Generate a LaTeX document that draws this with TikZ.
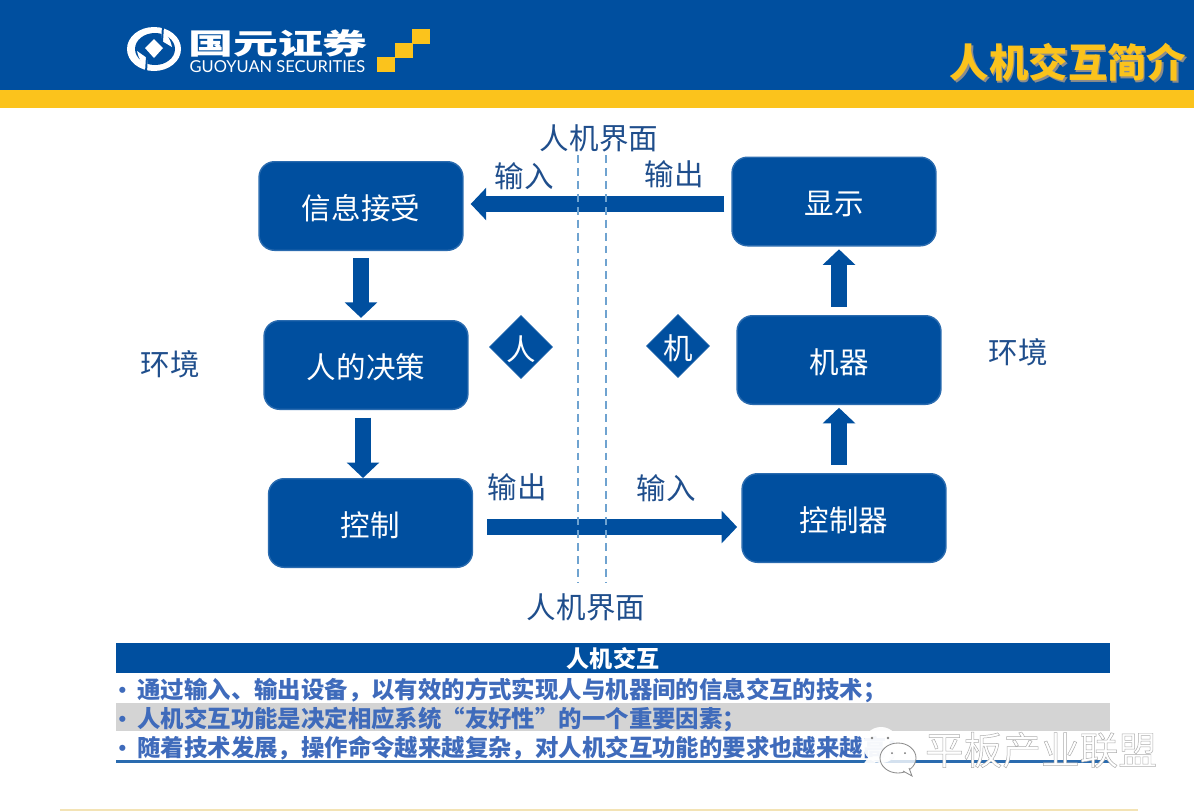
\documentclass[tikz,border=0pt]{standalone}
\usepackage{fontspec}
\setmainfont{Noto Sans CJK SC}
\newfontfamily\logofont{Lato}
\usetikzlibrary{arrows.meta,calc,shapes.geometric}
\definecolor{band}{HTML}{004F9F}
\definecolor{gold}{HTML}{FBC31C}
\definecolor{edge}{HTML}{2A6BAF}
\definecolor{ink}{HTML}{1F4E8C}
\definecolor{rowtext}{HTML}{3F6BBB}
\definecolor{rowgrey}{HTML}{D4D4D4}
\definecolor{guide}{HTML}{6FA3D0}
\definecolor{foot}{HTML}{F3E3B5}
\newcommand{\hollow}[1]{\special{pdf:code 2 Tr 0.35 w 0.68 G 1 g}#1\special{pdf:code 0 Tr 0 G 0 g}}
\newcommand{\rowdot}{\makebox[15pt][l]{\hspace{1.5pt}\raisebox{2.6pt}{\logofont\fontsize{10}{10}\selectfont •}}}
\tikzset{unit/.style={rounded corners=11pt,draw=edge,fill=band,line width=1pt,text=white,
    minimum width=145pt,minimum height=63pt,inner sep=0pt,text height=21.5pt,text depth=2.5pt,
    font=\fontsize{21}{25}\selectfont},
flow/.style={-{Triangle[length=11pt,width=22.5pt]},line width=11.2pt,band},
seam/.style={guide,line width=2pt,dash pattern=on 5.6pt off 3.6pt},
lab/.style={text=ink,inner sep=0pt,font=\fontsize{21}{25}\selectfont},
tag/.style={diamond,aspect=1,fill=band,draw=edge,minimum size=44pt,inner sep=0pt,text=white,
    text height=21.5pt,text depth=2.5pt,font=\fontsize{21}{25}\selectfont},
row/.style={anchor=west,text=rowtext,inner sep=0pt,font=\fontsize{16.65}{20}\selectfont\bfseries}}

\begin{document}
\begin{tikzpicture}[x=.025cm,y=-.025cm]
\useasboundingbox (0,0) rectangle (1194,811);
% header band
\fill[band] (0,0) rectangle (1194,90);
\fill[gold] (0,90) rectangle (1194,108);
\fill[white] (154,49) ellipse [x radius=27,y radius=22];
\fill[band] (155,49) ellipse [x radius=20,y radius=16];
\fill[white] (154,39)--(163,48)--(154,58)--(145,48)--cycle;
\fill[white] (137,51) .. controls (139,60) and (142,64) .. (148,67) -- (147,58) -- cycle;
\fill[white] (172,47) .. controls (170,38) and (167,34) .. (161,31) -- (162,41) -- cycle;
\draw[band,line width=1.4pt] (163,26)--(162,42) (146,72)--(147,56);
\node[text=white,inner sep=0pt,font=\fontsize{20.5}{24}\selectfont\bfseries,xscale=1.56,transform shape] (brand) at (278,43.5) {国元证券};
\node[text=white,inner sep=0pt,font=\logofont\fontsize{11.7}{14}\selectfont] (brandlatin) at (277.5,66.5) {GUOYUAN SECURITIES};
\foreach \x/\y in {377/57,395/43,412/29}{
  \fill[gold] (\x,\y) rectangle (\x+18,\y+15);
}
\node[text=black!45,inner sep=0pt,font=\fontsize{28}{32}\selectfont\bfseries] (titleshade) at (1069.5,64) {人机交互简介};
\node[text=gold,inner sep=0pt,font=\fontsize{28}{32}\selectfont\bfseries] (title) at (1068,62) {人机交互简介};
% left column
\node[unit] (recv) at (361,206) {信息接受};
\node[unit] (decide) at (366,365) {人的决策};
\node[unit] (ctrl) at (370.5,523) {控制};
% right column
\node[unit] (disp) at (834,201.5) {显示};
\node[unit] (mach) at (839,360) {机器};
\node[unit] (ctrlr) at (844,518) {控制器};
\coordinate (topflow) at (0,204);
\coordinate (lowflow) at (0,527);
\draw[flow,shorten <=5pt,shorten >=5pt] (disp.west |- topflow) -- (recv.east |- topflow);
\draw[flow,shorten <=10pt,shorten >=3pt] (ctrl.east |- lowflow) -- (ctrlr.west |- lowflow);
\draw[flow,shorten <=5pt,shorten >=1.5pt] (recv.south) -- (recv.south |- decide.north);
\draw[flow,shorten <=5.5pt,shorten >=0pt] ($(decide.south)+(-3,0)$) -- ($(decide.south |- ctrl.north)+(-3,0)$);
\draw[flow,shorten <=6pt,shorten >=2pt] (mach.north) -- (mach.north |- disp.south);
\draw[flow,shorten <=6pt,shorten >=2pt] (mach.north |- ctrlr.north) -- (mach.south);
% interface lines
\coordinate (seamA) at (578,155);
\coordinate (seamB) at (606,155);
\coordinate (seamC) at (578,582);
\coordinate (seamD) at (606,582);
\draw[seam] (seamA) -- (seamC);
\draw[seam] (seamB) -- (seamD);
\node[lab] (faceup) at (599,138) {人机界面};
\node[lab] (facedown) at (586,607) {人机界面};
\node[lab] (intop) at (524,176) {输入};
\node[lab] (outtop) at (674,174) {输出};
\node[lab] (outlow) at (517,487) {输出};
\node[lab] (inlow) at (666,488) {输入};
\node[lab] (envl) at (170,364) {环境};
\node[lab] (envr) at (1018,352) {环境};
\node[tag] (human) at (521,347) {人};
\node[tag] (robot) at (678,346) {机};
% summary table
\fill[band] (116,643) rectangle (1110,673);
\fill[rowgrey] (116,703) rectangle (1110,731);
\node[text=white,inner sep=0pt,font=\fontsize{16.4}{20}\selectfont\bfseries] (head) at (613,659) {人机交互};
\node[row] (rowa) at (116,690.5) {\rowdot 通过输入、输出设备，以有效的方式实现人与机器间的信息交互的技术；};
\node[row] (rowb) at (116,719.5) {\rowdot 人机交互功能是决定相应系统“友好性”的一个重要因素；};
\node[row] (rowc) at (116,748.5) {\rowdot 随着技术发展，操作命令越来越复杂，对人机交互功能的要求也越来越高；};
\draw[edge,line width=1.5pt] (116,761.5) -- (1110,761.5);
\draw[foot,line width=.8pt] (60,810) -- (1138,810);
% watermark
\fill[white,opacity=.95] (881,745) ellipse [x radius=18,y radius=18];
\fill[white,opacity=.95] (868,758)--(862,766)--(878,762)--cycle;
\fill[black!50] (872,738) circle (1.3) (888,738) circle (1.3);
\draw[black!45,fill=white,fill opacity=.8,line width=.6pt] (898,758) ellipse [x radius=18,y radius=15];
\draw[black!45,fill=white,line width=.6pt] (903,771)--(912,776)--(909,768);
\fill[black!55] (892,753) circle (1) (905,753) circle (1);
\node[inner sep=0pt,font=\fontsize{27.5}{32}\selectfont] (mark) at (1041,750) {\hollow{平板产业联盟}};
\end{tikzpicture}
\end{document}
